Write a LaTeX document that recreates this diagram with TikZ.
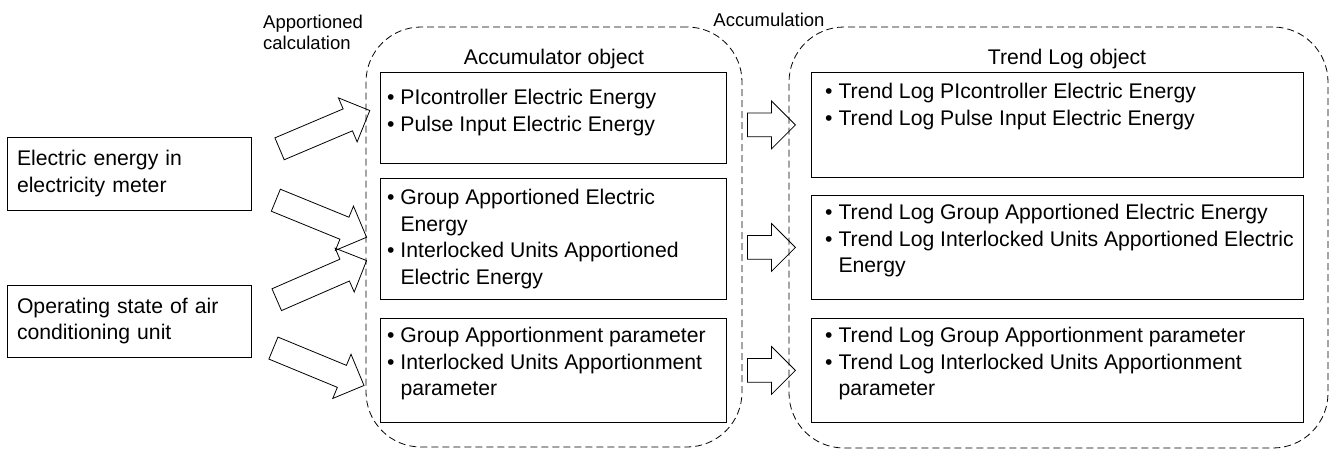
\documentclass[tikz,border=0pt]{standalone}
\usepackage{fontspec}
\setmainfont{Liberation Sans}
\usetikzlibrary{shapes.arrows,calc}

\tikzset{
  srcbox/.style={draw, line width=0.8pt, align=left, text width=224pt, inner xsep=10pt, minimum height=73pt},
  groupbox/.style={draw, line width=0.8pt, dash pattern=on 7pt off 4pt, rounded corners=55pt},
  objbox/.style={draw, line width=0.8pt, anchor=north west},
  itemtext/.style={anchor=north west, inner sep=0pt, align=left},
  smalltext/.style={font=\fontsize{18.5}{21}\selectfont},
  fatarrow/.style={draw, line width=0.8pt, single arrow, sloped, inner xsep=0pt, inner ysep=11.5pt, minimum width=47pt, single arrow head extend=12pt, single arrow tip angle=90},
}
\newcommand{\bul}{\textbullet\ }
\newcommand{\ind}{\phantom{\textbullet\ }}

\begin{document}
\begin{tikzpicture}[x=1pt, y=-1pt, font=\fontsize{21.2}{26.7}\selectfont]
    \useasboundingbox (0,0) rectangle (1333,450);
    % inputs
    \node[srcbox] (elec) at (129,173.5) {Electric energy in\\electricity meter};
    \node[srcbox, minimum height=72pt] (oper) at (129,321) {Operating state of air\\conditioning unit};

    % object groups
    \node[groupbox, minimum width=376pt, minimum height=420pt] (accgrp) at (554,237) {};
    \node[groupbox, minimum width=539pt, minimum height=421pt] (trendgrp) at (1058.5,237.5) {};
    \node (acchead) at (554,59) {Accumulator object};
    \node (trendhead) at (1067,59) {Trend Log object};
    \node[smalltext, align=left, anchor=north west, inner sep=0pt] (apport) at (263,15) {Apportioned\\calculation};
    \node[smalltext] (accum) at (769,20) {Accumulation};

    % accumulator boxes
    \node[objbox, minimum width=346pt, minimum height=91pt] (acc1) at (380,72) {};
    \node[objbox, minimum width=346pt, minimum height=121pt] (acc2) at (380,178) {};
    \node[objbox, minimum width=346pt, minimum height=104pt] (acc3) at (380,318) {};
    \node[itemtext] (acc1txt) at ($(acc1.north west)+(7,17)$) {\bul PIcontroller Electric Energy\\\bul Pulse Input Electric Energy};
    \node[itemtext] (acc2txt) at ($(acc2.north west)+(7,11)$) {\bul Group Apportioned Electric\\\ind Energy\\\bul Interlocked Units Apportioned\\\ind Electric Energy};
    \node[itemtext] (acc3txt) at ($(acc3.north west)+(7,9)$) {\bul Group Apportionment parameter\\\bul Interlocked Units Apportionment\\\ind parameter};

    % trend log boxes
    \node[objbox, minimum width=492pt, minimum height=105pt] (trend1) at (811,72) {};
    \node[objbox, minimum width=492pt, minimum height=104pt] (trend2) at (811,195) {};
    \node[objbox, minimum width=492pt, minimum height=104pt] (trend3) at (811,318) {};
    \node[itemtext] (trend1txt) at ($(trend1.north west)+(14,11)$) {\bul Trend Log PIcontroller Electric Energy\\\bul Trend Log Pulse Input Electric Energy};
    \node[itemtext] (trend2txt) at ($(trend2.north west)+(14,9)$) {\bul Trend Log Group Apportioned Electric Energy\\\bul Trend Log Interlocked Units Apportioned Electric\\\ind Energy};
    \node[itemtext] (trend3txt) at ($(trend3.north west)+(14,9)$) {\bul Trend Log Group Apportionment parameter\\\bul Trend Log Interlocked Units Apportionment\\\ind parameter};

    % apportioned calculation arrows
    \coordinate (tail1) at ($(elec.east)+(23,-22.5)$);
    \coordinate (tail2) at ($(elec.east)+(19,24.5)$);
    \coordinate (tail3) at ($(oper.east)+(20,-19)$);
    \coordinate (tail4) at ($(oper.east)+(17,25)$);
    \coordinate (tip1) at (364,113);
    \coordinate (tip2) at (361,235);
    \coordinate (tip3) at (361,263);
    \coordinate (tip4) at (358,383);
    \foreach \n in {1,...,4}{
        \path (tail\n) -- node[fatarrow, minimum height=98pt] {} (tip\n);
    }

    % accumulation arrows
    \foreach \n in {1,2,3}{
        \path (accgrp.east |- trend\n.west) -- node[fatarrow, minimum height=48pt] {} (trendgrp.west |- trend\n.west);
    }
\end{tikzpicture}
\end{document}
